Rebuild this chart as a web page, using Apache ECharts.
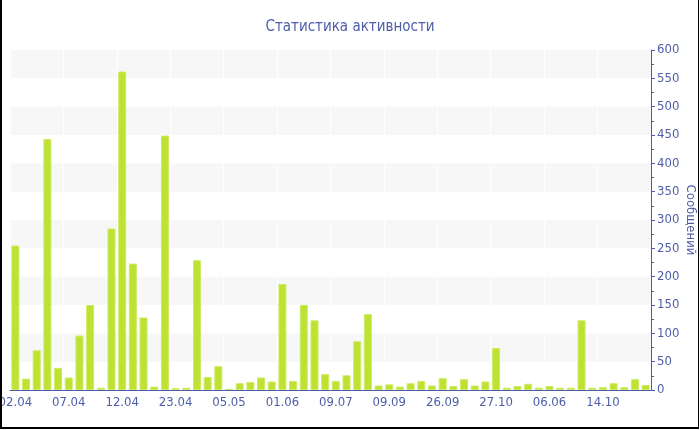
<!DOCTYPE html>
<html>
<head>
<meta charset="utf-8">
<script src="https://cdn.jsdelivr.net/npm/echarts@6/dist/echarts.min.js"></script>
<style>
html,body{margin:0;padding:0;background:#fff;}
#wrap{position:relative;width:700px;height:430px;overflow:hidden;}
#chart{position:absolute;left:0;top:0;width:700px;height:430px;}
#frame{position:absolute;left:0;top:-4px;width:699px;height:433px;box-sizing:border-box;border-left:2px solid #000;border-right:1px solid #000;border-bottom:2px solid #000;pointer-events:none;}
</style>
</head>
<body>
<div id="wrap"><div id="chart"></div><div id="frame"></div></div>
<script>
const titleText = 'Статистика активности';
const yAxisName = 'Сообщений';
const categories = [
  '02.04','03.04','04.04','05.04','06.04','07.04','08.04','09.04','10.04','11.04',
  '12.04','13.04','14.04','16.04','19.04','23.04','24.04','26.04','28.04','30.04',
  '05.05','09.05','13.05','18.05','25.05','01.06','05.06','12.06','20.06','28.06',
  '09.07','17.07','28.07','08.08','22.08','09.09','13.09','17.09','20.09','23.09',
  '26.09','30.09','06.10','13.10','20.10','27.10','03.11','10.11','24.11','15.12',
  '06.06','19.07','30.08','15.09','02.10','14.10','21.10','29.10','05.11','16.11'
];
const messages = [
  255,20,70,443,39,22,96,150,4,285,
  562,223,128,6,449,3,4,229,23,42,
  2,12,14,22,15,187,16,150,123,28,
  16,26,86,134,8,10,6,12,16,8,
  21,7,19,8,15,74,4,7,11,4,
  7,4,4,123,4,5,12,5,19,9
];
const yTicks = {min:0, max:600, interval:50};

const blue = '#4d5da8';
const font = '"DejaVu Sans Condensed", "DejaVu Sans", sans-serif';
const chart = echarts.init(document.getElementById('chart'), null, {renderer:'canvas'});
chart.setOption({
  animation:false,
  title:{text:titleText,left:'center',top:15,textStyle:{color:blue,fontFamily:font,fontSize:15,fontWeight:'normal'}},
  grid:{left:10,right:49,top:50,bottom:40,containLabel:false,outerBoundsMode:'none'},
  xAxis:{
    type:'category',data:categories,
    axisLine:{lineStyle:{color:blue,width:1}},
    axisTick:{alignWithLabel:true,interval:4,length:4,lineStyle:{color:blue}},
    axisLabel:{interval:4,color:blue,fontFamily:font,fontSize:13,margin:6},
    splitLine:{show:true,interval:4,lineStyle:{color:'#ffffff',width:1}}
  },
  yAxis:{
    type:'value',position:'right',min:yTicks.min,max:yTicks.max,interval:yTicks.interval,
    name:yAxisName,nameLocation:'middle',nameRotate:-90,nameGap:33,nameMoveOverlap:false,
    nameTextStyle:{color:blue,fontFamily:font,fontSize:13},
    axisLine:{show:true,lineStyle:{color:blue,width:1}},
    axisTick:{show:true,length:4,lineStyle:{color:blue}},
    minorTick:{show:true,splitNumber:2,length:3,lineStyle:{color:blue}},
    axisLabel:{color:blue,fontFamily:font,fontSize:13,margin:6},
    splitLine:{show:false},
    splitArea:{show:true,areaStyle:{color:['#ffffff','#f7f7f7']}}
  },
  series:[{
    type:'bar',data:messages,barWidth:8,
    itemStyle:{color:'#bde232',borderColor:'#cdeb62',borderWidth:1}
  }]
});
</script>
</body>
</html>
